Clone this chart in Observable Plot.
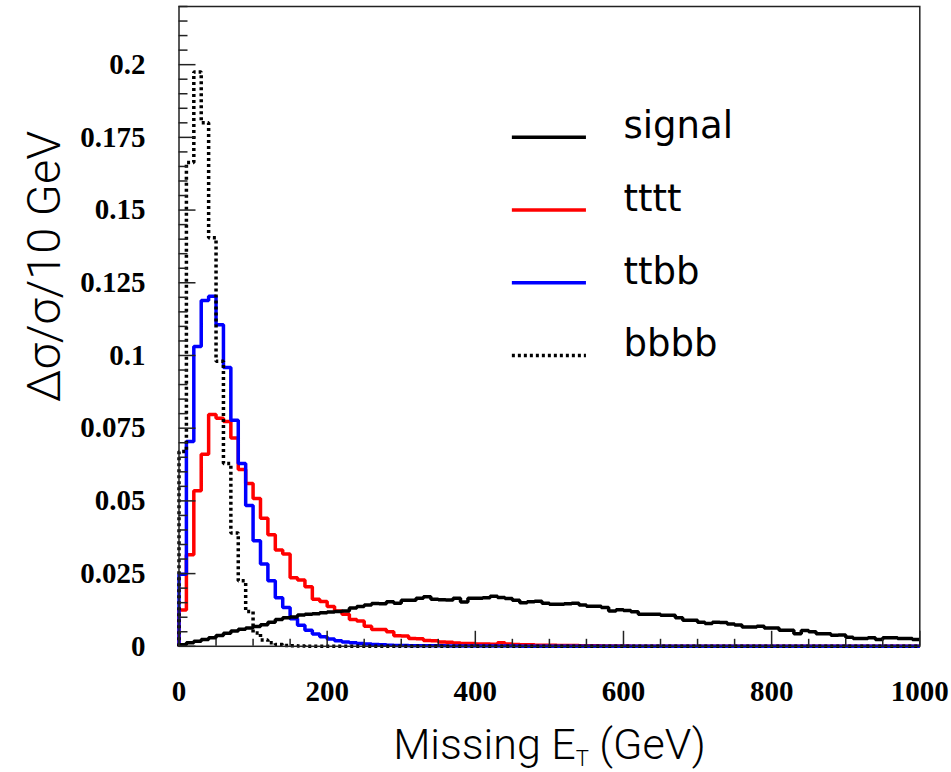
<!DOCTYPE html>
<html>
<head>
<meta charset="utf-8">
<script src="https://cdn.jsdelivr.net/npm/d3@7"></script>
<script src="https://cdn.jsdelivr.net/npm/@observablehq/plot@0.6"></script>
<style>
  html, body { margin: 0; padding: 0; background: #fff; }
  #chart svg { display: block; }
</style>
</head>
<body>
<div id="chart"></div>
<script>
// ---- data (Δσ/σ per 10 GeV bin, bins 0-10, 10-20, ... 990-1000 GeV) ----
const binWidth = 10;

const signal = [
  0.0005,0.0012,0.0017,0.0023,0.0029,0.0037,0.0045,0.0053,0.0059,0.0063,
  0.0068,0.0074,0.0083,0.0092,0.0098,0.0101,0.0108,0.0110,0.0112,0.0115,
  0.0118,0.0120,0.0121,0.0132,0.0137,0.0142,0.0147,0.0146,0.0153,0.0148,
  0.0158,0.0158,0.0165,0.0170,0.0162,0.0160,0.0159,0.0165,0.0152,0.0165,
  0.0165,0.0167,0.0172,0.0168,0.0164,0.0158,0.0150,0.0153,0.0155,0.0148,
  0.0145,0.0145,0.0146,0.0148,0.0142,0.0138,0.0138,0.0133,0.0121,0.0126,
  0.0123,0.0119,0.0110,0.0110,0.0110,0.0107,0.0107,0.0098,0.0090,0.0090,
  0.0083,0.0078,0.0083,0.0082,0.0077,0.0073,0.0066,0.0066,0.0069,0.0063,
  0.0063,0.0055,0.0055,0.0043,0.0054,0.0050,0.0043,0.0043,0.0038,0.0039,
  0.0031,0.0027,0.0027,0.0029,0.0023,0.0029,0.0029,0.0027,0.0027,0.0023
];

const tttt = [
  0.0125,0.0315,0.0535,0.0660,0.0797,0.0784,0.0773,0.0716,0.0608,0.0560,
  0.0508,0.0440,0.0384,0.0331,0.0317,0.0236,0.0228,0.0205,0.0162,0.0154,
  0.0137,0.0121,0.0110,0.0092,0.0087,0.0069,0.0058,0.0058,0.0050,0.0036,
  0.0035,0.0027,0.0026,0.0020,0.0019,0.0015,0.0014,0.0011,0.0010,0.0010,
  0.0008,0.0008,0.0007,0.0012,0.0008,0.0006,0.0005,0.0005,0.0004,0.0004,
  0.0004,0.0003,0.0003,0.0003,0.0002,0.0002,0.0002,0.0001,0.0001,0.0001,
  0.0001,0,0,0,0,0,0,0,0,0,
  0,0,0,0,0,0,0,0,0,0,
  0,0,0,0,0,0,0,0,0,0,
  0,0,0,0,0,0,0,0,0,0
];

const ttbb = [
  0.0248,0.0704,0.1031,0.1189,0.1204,0.1106,0.0959,0.0777,0.0629,0.0484,
  0.0363,0.0283,0.0225,0.0167,0.0133,0.0095,0.0072,0.0055,0.0042,0.0033,
  0.0025,0.0019,0.0015,0.0012,0.0010,0.0008,0.0006,0.0005,0.0004,0.0003,
  0.0003,0.0002,0.0002,0.0002,0.0002,0.0002,0.0001,0.0001,0.0001,0.0001,
  0.0001,0.0001,0.0001,0.0001,0.0001,0.0001,0,0,0,0,
  0,0,0,0,0,0,0,0,0,0,
  0,0,0,0,0,0,0,0,0,0,
  0,0,0,0,0,0,0,0,0,0,
  0,0,0,0,0,0,0,0,0,0,
  0,0,0,0,0,0,0,0,0,0
];

const bbbb = [
  0.0670,0.1664,0.1975,0.1800,0.1405,0.0980,0.0629,0.0390,0.0225,0.0120,
  0.0046,0.0022,0.0012,0.0006,0.0003,0.0002,0.0001,0,0,0,
  0,0,0,0,0,0,0,0,0,0,
  0,0,0,0,0,0,0,0,0,0,
  0,0,0,0,0,0,0,0,0,0,
  0,0,0,0,0,0,0,0,0,0,
  0,0,0,0,0,0,0,0,0,0,
  0,0,0,0,0,0,0,0,0,0,
  0,0,0,0,0,0,0,0,0,0,
  0,0,0,0,0,0,0,0,0,0
];

const seriesNames  = ["signal", "tttt", "ttbb", "bbbb"];
const seriesColors = ["#000000", "#ff0000", "#0000ff", "#000000"];
const seriesDash   = [null, null, null, "3,3"];

// legend placement (data coordinates, as in the original ROOT macro)
const legendY = [0.175, 0.15, 0.125, 0.1];
const legendX1 = 450, legendX2 = 550, legendTextX = 600;

const xMajorTicks = [0, 200, 400, 600, 800, 1000];
const xTickLabels = ["0", "200", "400", "600", "800", "1000"];
const xMinorTicks = [50,100,150,250,300,350,450,500,550,650,700,750,850,900,950];
const yMajorTicks = [0, 0.025, 0.05, 0.075, 0.1, 0.125, 0.15, 0.175, 0.2];
const yTickLabels = ["0", "0.025", "0.05", "0.075", "0.1", "0.125", "0.15", "0.175", "0.2"];
const yMinorTicks = [0.005,0.01,0.015,0.02,0.03,0.035,0.04,0.045,0.055,0.06,0.065,0.07,
  0.08,0.085,0.09,0.095,0.105,0.11,0.115,0.12,0.13,0.135,0.14,0.145,0.155,0.16,0.165,0.17,
  0.18,0.185,0.19,0.195,0.205,0.21,0.215,0.22];

const xTitle = "Missing E_T (GeV)";
const yTitle = "Δσ/σ/10 GeV";

// ---- build step outlines ----
function steps(values) {
  const pts = [{x: 0, y: 0}];
  values.forEach((v, i) => pts.push({x: i * binWidth, y: v}));
  pts.push({x: values.length * binWidth, y: values[values.length - 1]});
  return pts;
}
const allSeries = [signal, tttt, ttbb, bbbb];
const drawOrder = [1, 2, 0, 3];

const tickFont = "'Liberation Serif', 'Times New Roman', serif";
const titleFont = "Roboto, 'DejaVu Sans', sans-serif";
const legendFont = "'DejaVu Sans', sans-serif";
const lineW = 3.5;

const marks = [];
for (const i of drawOrder) {
  marks.push(Plot.line(steps(allSeries[i]), {
    x: "x", y: "y", curve: "step-after",
    stroke: seriesColors[i], strokeWidth: lineW,
    strokeDasharray: seriesDash[i],
    strokeLinecap: "butt", strokeLinejoin: "miter"
  }));
}

// legend: one rule + label per series
seriesNames.forEach((name, i) => {
  marks.push(Plot.ruleY([legendY[i]], {
    y: d => d, x1: () => legendX1, x2: () => legendX2,
    stroke: seriesColors[i], strokeWidth: lineW,
    strokeDasharray: seriesDash[i], strokeLinecap: "butt"
  }));
});
marks.push(Plot.text(seriesNames, {
  x: () => legendTextX, y: (d, i) => legendY[i], text: d => d,
  textAnchor: "start", lineAnchor: "bottom", dy: 1,
  fontSize: 37, fontFamily: legendFont, fill: "#000"
}));

// axes: inward ticks
marks.push(Plot.axisY(yMajorTicks, {anchor: "left", tickSize: -17, tickFormat: () => "", stroke: "#222", strokeWidth: 1.5, label: null}));
marks.push(Plot.axisY(yMinorTicks, {anchor: "left", tickSize: -9, tickFormat: () => "", stroke: "#222", strokeWidth: 1.5, label: null}));
marks.push(Plot.axisY(yMajorTicks, {
  anchor: "left", tickSize: 0, tickPadding: 33.5,
  tickFormat: d => yTickLabels[yMajorTicks.indexOf(d)],
  fontSize: 29, fontFamily: tickFont, fontWeight: "bold", fill: "#000", label: null
}));
marks.push(Plot.axisX(xMajorTicks, {anchor: "bottom", tickSize: -15, tickFormat: () => "", stroke: "#222", strokeWidth: 1.5, label: null}));
marks.push(Plot.axisX(xMinorTicks, {anchor: "bottom", tickSize: -7, tickFormat: () => "", stroke: "#222", strokeWidth: 1.5, label: null}));
marks.push(Plot.axisX(xMajorTicks, {
  anchor: "bottom", tickSize: 0, tickPadding: 34,
  tickFormat: d => xTickLabels[xMajorTicks.indexOf(d)],
  fontSize: 29, fontFamily: tickFont, fontWeight: "bold", fill: "#000", label: null
}));

// axis titles
marks.push(Plot.text([xTitle], {
  frameAnchor: "bottom", dy: 113, text: d => d, textAnchor: "middle",
  fontSize: 43, fontFamily: titleFont, fontWeight: 300, fill: "#000"
}));
marks.push(Plot.text([yTitle], {
  frameAnchor: "left", dx: -134, dy: -60, rotate: -90, text: d => d,
  textAnchor: "middle", lineAnchor: "middle",
  fontSize: 47, fontFamily: titleFont, fontWeight: 300, fill: "#000"
}));

marks.push(Plot.frame({stroke: "#222", strokeWidth: 1.5}));

const chart = Plot.plot({
  width: 951,
  height: 772,
  marginLeft: 178.5,
  marginRight: 31.7,
  marginTop: 6,
  marginBottom: 126.2,
  style: {background: "#fff", overflow: "visible"},
  x: {domain: [0, 1000], label: null, axis: null},
  y: {domain: [0, 0.22], label: null, axis: null},
  marks
});

// subscript T in the x-axis title
d3.select(chart).selectAll("text").filter(function () {
  return this.textContent === xTitle;
}).each(function () {
  const t = d3.select(this);
  t.text(null);
  t.append("tspan").text("Missing E");
  t.append("tspan").attr("font-size", 22).attr("dy", 7).text("T");
  t.append("tspan").attr("dy", -7).text(" (GeV)");
});

document.getElementById("chart").appendChild(chart);
</script>
</body>
</html>
